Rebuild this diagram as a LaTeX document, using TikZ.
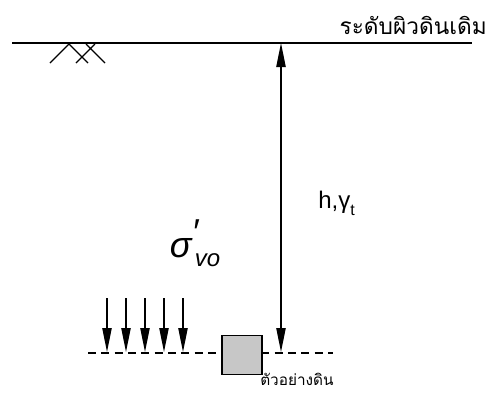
\documentclass[tikz,border=0pt]{standalone}
\usepackage{fontspec}
\usetikzlibrary{arrows.meta}
\newfontfamily\thaifont[Script=Thai]{Loma}
\newfontfamily\grkfont{Liberation Sans}

\tikzset{
  load/.style={-{Triangle[length=18pt,width=7pt]}, line width=0.9pt},
}

\begin{document}
\begin{tikzpicture}[x=0.75pt,y=-0.75pt]
    \useasboundingbox (0,0) rectangle (494,393);
    % original ground surface
    \coordinate (gl) at (12,43);
    \coordinate (gr) at (472,43);
    \draw[line width=1.2pt] (gl) -- (gr);
    \node[anchor=east, inner sep=0pt, font=\thaifont\fontsize{17}{20}\selectfont] (surf) at (487,25) {ระดับผิวดินเดิม};
    \draw[line width=0.8pt] (50,63) -- (69,44) -- (88,63) (76,63) -- (95,44) (86,44) -- (105,63);
    % sampling depth
    \coordinate (dl) at (88,353);
    \coordinate (dr) at (333,353);
    \draw[line width=0.8pt, dash pattern=on 6pt off 4pt] (dl) -- (dr);
    \node[draw, line width=1.2pt, fill=black!22, minimum width=30pt, minimum height=29pt, inner sep=0pt] (smp) at (242,355) {};
    \node[anchor=north west, inner sep=0pt, font=\thaifont\fontsize{11.5}{14}\selectfont] (smplbl) at (260,373) {ตัวอย่างดิน};
    % depth h
    \coordinate (top) at (281,43);
    \coordinate (bot) at (281,352);
    \draw[{Triangle[length=18pt,width=7pt]}-{Triangle[length=18pt,width=7pt]}, line width=0.9pt] (top) -- (bot);
    \node[anchor=west, inner sep=0pt, font=\grkfont\fontsize{18}{21}\selectfont] (hg) at (318,203) {h,γ\raisebox{-0.3em}{\fontsize{12}{14}\selectfont t}};
    % vertical stress
    \node[inner sep=0pt, font=\grkfont\itshape\fontsize{27}{30}\selectfont] (sig) at (195,243) {σ\raisebox{0.35em}{′}\kern-0.1em\raisebox{-0.25em}{\fontsize{18}{20}\selectfont vo}};
    \foreach \i/\xx in {1/107,2/126,3/145,4/164,5/183} {
        \coordinate (s\i) at (\xx,298);
        \coordinate (e\i) at (\xx,352);
        \draw[load] (s\i) -- (e\i);
    }
\end{tikzpicture}
\end{document}
